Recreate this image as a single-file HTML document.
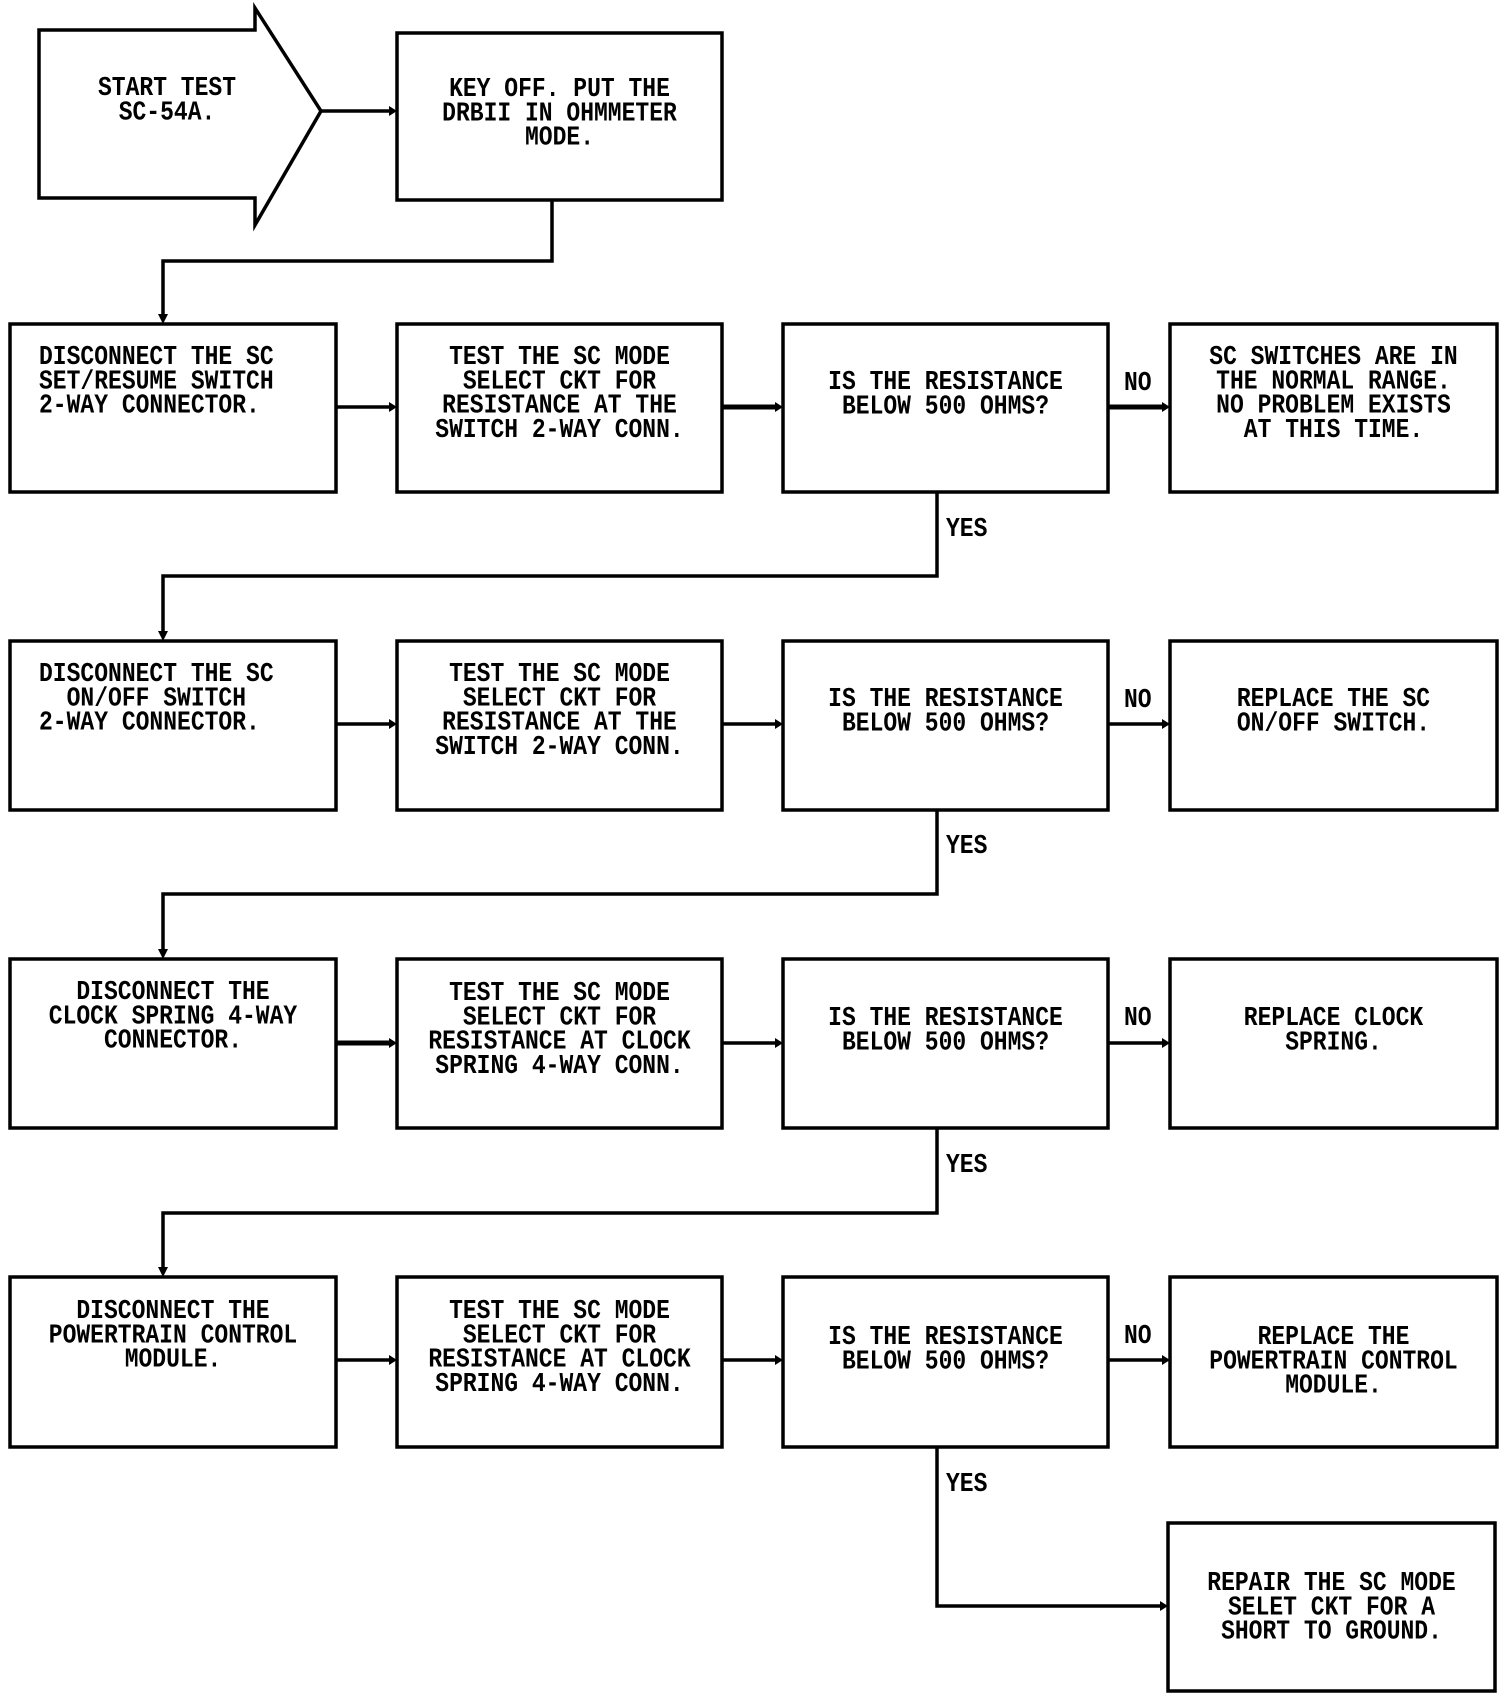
<!DOCTYPE html>
<html><head><meta charset="utf-8"><style>
html,body{margin:0;padding:0;background:#fff;}
body{width:1504px;height:1698px;position:relative;overflow:hidden;}
svg{position:absolute;left:0;top:0;}
.t{position:absolute;font-family:"Liberation Mono",monospace;font-weight:bold;font-size:23px;line-height:20.7px;color:#000;white-space:pre;text-align:center;transform:scaleY(1.18);transform-origin:top center;}
.l{text-align:left;transform-origin:top left;}
</style></head><body>
<svg width="1504" height="1698" viewBox="0 0 1504 1698">
<g fill="none" stroke="#000" stroke-width="3.5" stroke-linejoin="miter">
<polygon points="39,30 255,30 255,8 321,111 255,225 255,198 39,198"/>
<rect x="397" y="33" width="325" height="167"/>
<rect x="10" y="324" width="326" height="168"/><rect x="397" y="324" width="325" height="168"/><rect x="783" y="324" width="325" height="168"/><rect x="1170" y="324" width="327" height="168"/>
<rect x="10" y="641" width="326" height="169"/><rect x="397" y="641" width="325" height="169"/><rect x="783" y="641" width="325" height="169"/><rect x="1170" y="641" width="327" height="169"/>
<rect x="10" y="959" width="326" height="169"/><rect x="397" y="959" width="325" height="169"/><rect x="783" y="959" width="325" height="169"/><rect x="1170" y="959" width="327" height="169"/>
<rect x="10" y="1277" width="326" height="170"/><rect x="397" y="1277" width="325" height="170"/><rect x="783" y="1277" width="325" height="170"/><rect x="1170" y="1277" width="327" height="170"/>
<rect x="1168" y="1523" width="327" height="168"/>
<polyline points="321,111 390,111"/>
<polyline points="552,200 552,261 163,261 163,316"/>
<polyline points="336,407 390,407"/><polyline points="722,407 776,407" stroke-width="5"/><polyline points="1108,407 1163,407" stroke-width="5"/>
<polyline points="937,492 937,576 163,576 163,634"/>
<polyline points="336,724 390,724"/><polyline points="722,724 776,724"/><polyline points="1108,724 1163,724"/>
<polyline points="937,810 937,894 163,894 163,952"/>
<polyline points="336,1043 390,1043" stroke-width="5"/><polyline points="722,1043 776,1043"/><polyline points="1108,1043 1163,1043"/>
<polyline points="937,1128 937,1213 163,1213 163,1270"/>
<polyline points="336,1360 390,1360"/><polyline points="722,1360 776,1360"/><polyline points="1108,1360 1163,1360"/>
<polyline points="937,1447 937,1606 1161,1606"/>
</g>
<g fill="#000">
<polygon points="397,111 389,106 389,116"/>
<polygon points="163,324 158,314 168,314"/><polygon points="163,641 158,631 168,631"/><polygon points="163,959 158,949 168,949"/><polygon points="163,1277 158,1267 168,1267"/>
<polygon points="397,407 389,402 389,412"/><polygon points="783,407 775,402 775,412"/><polygon points="1170,407 1162,402 1162,412"/>
<polygon points="397,724 389,719 389,729"/><polygon points="783,724 775,719 775,729"/><polygon points="1170,724 1162,719 1162,729"/>
<polygon points="397,1043 389,1038 389,1048"/><polygon points="783,1043 775,1038 775,1048"/><polygon points="1170,1043 1162,1038 1162,1048"/>
<polygon points="397,1360 389,1355 389,1365"/><polygon points="783,1360 775,1355 775,1365"/><polygon points="1170,1360 1162,1355 1162,1365"/>
<polygon points="1168,1606 1160,1601 1160,1611"/>
</g>
</svg>
<div class="t" style="left:39px;width:256px;top:76px;">START TEST
SC-54A.</div>
<div class="t" style="left:397px;width:325px;top:77px;">KEY OFF. PUT THE
DRBII IN OHMMETER
MODE.</div>

<div class="t l" style="left:39px;top:345px;">DISCONNECT THE SC
SET/RESUME SWITCH
2-WAY CONNECTOR.</div>
<div class="t" style="left:397px;width:325px;top:345px;">TEST THE SC MODE
SELECT CKT FOR
RESISTANCE AT THE
SWITCH 2-WAY CONN.</div>
<div class="t" style="left:783px;width:325px;top:370px;">IS THE RESISTANCE
BELOW 500 OHMS?</div>
<div class="t" style="left:1170px;width:327px;top:345px;">SC SWITCHES ARE IN
THE NORMAL RANGE.
NO PROBLEM EXISTS
AT THIS TIME.</div>

<div class="t l" style="left:39px;top:662px;">DISCONNECT THE SC
  ON/OFF SWITCH
2-WAY CONNECTOR.</div>
<div class="t" style="left:397px;width:325px;top:662px;">TEST THE SC MODE
SELECT CKT FOR
RESISTANCE AT THE
SWITCH 2-WAY CONN.</div>
<div class="t" style="left:783px;width:325px;top:687px;">IS THE RESISTANCE
BELOW 500 OHMS?</div>
<div class="t" style="left:1170px;width:327px;top:687px;">REPLACE THE SC
ON/OFF SWITCH.</div>

<div class="t" style="left:10px;width:326px;top:980px;">DISCONNECT THE
CLOCK SPRING 4-WAY
CONNECTOR.</div>
<div class="t" style="left:397px;width:325px;top:981px;">TEST THE SC MODE
SELECT CKT FOR
RESISTANCE AT CLOCK
SPRING 4-WAY CONN.</div>
<div class="t" style="left:783px;width:325px;top:1006px;">IS THE RESISTANCE
BELOW 500 OHMS?</div>
<div class="t" style="left:1170px;width:327px;top:1006px;">REPLACE CLOCK
SPRING.</div>

<div class="t" style="left:10px;width:326px;top:1299px;">DISCONNECT THE
POWERTRAIN CONTROL
MODULE.</div>
<div class="t" style="left:397px;width:325px;top:1299px;">TEST THE SC MODE
SELECT CKT FOR
RESISTANCE AT CLOCK
SPRING 4-WAY CONN.</div>
<div class="t" style="left:783px;width:325px;top:1325px;">IS THE RESISTANCE
BELOW 500 OHMS?</div>
<div class="t" style="left:1170px;width:327px;top:1325px;">REPLACE THE
POWERTRAIN CONTROL
MODULE.</div>

<div class="t" style="left:1168px;width:327px;top:1571px;">REPAIR THE SC MODE
SELET CKT FOR A
SHORT TO GROUND.</div>

<div class="t l" style="left:1124px;top:371px;">NO</div>
<div class="t l" style="left:1124px;top:688px;">NO</div>
<div class="t l" style="left:1124px;top:1006px;">NO</div>
<div class="t l" style="left:1124px;top:1324px;">NO</div>
<div class="t l" style="left:946px;top:517px;">YES</div>
<div class="t l" style="left:946px;top:834px;">YES</div>
<div class="t l" style="left:946px;top:1153px;">YES</div>
<div class="t l" style="left:946px;top:1472px;">YES</div>
</body></html>
